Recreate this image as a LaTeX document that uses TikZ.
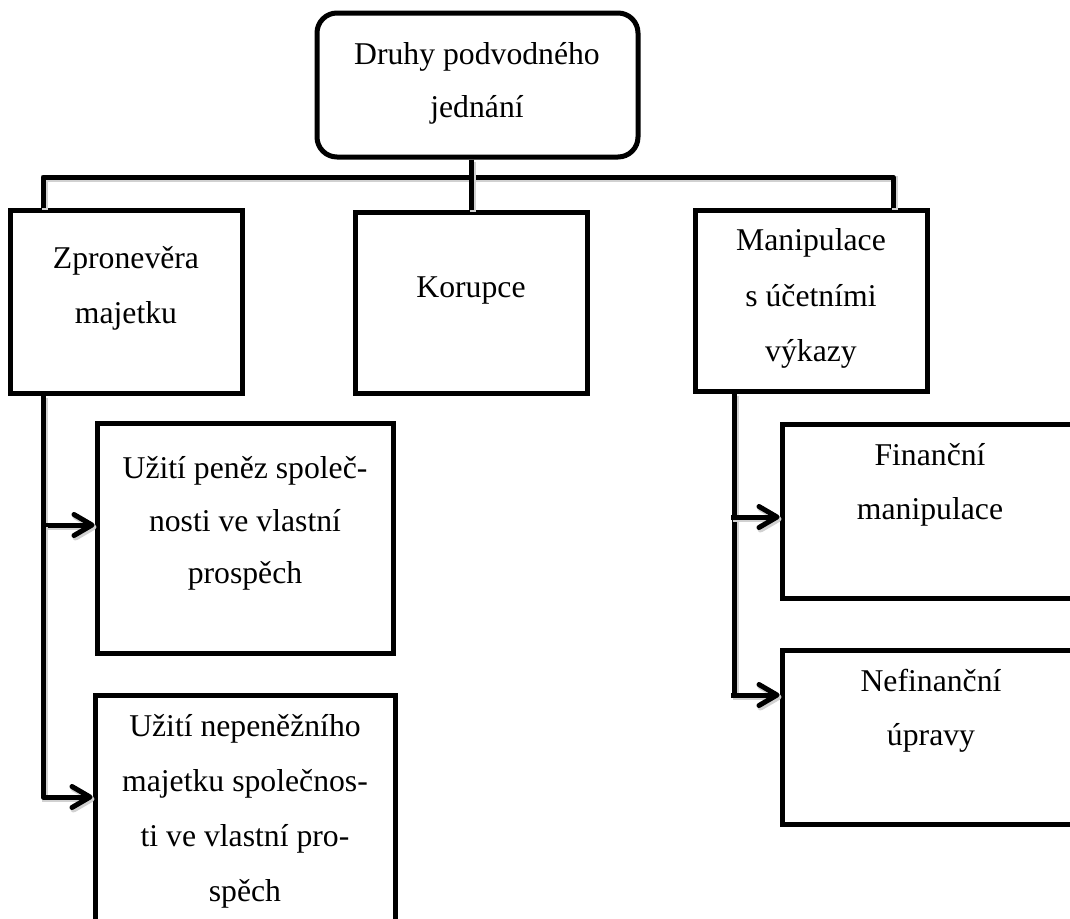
\documentclass[tikz,border=0pt]{standalone}
\usepackage{fontspec}
\setmainfont{Liberation Serif}
\usetikzlibrary{arrows.meta}
\newcommand\fl{\rule{0pt}{30pt}}
\begin{document}
\begin{tikzpicture}[x=1pt,y=-1pt,
  box/.style={draw=black, line width=5pt, inner sep=0pt, rectangle},
  conn/.style={line width=5pt, line join=round,
    preaction={draw=black!18, line width=6pt, transform canvas={shift={(2pt,-2pt)}}}},
  arr/.style={conn, -{Straight Barb[length=18pt,width=21pt,round]}},
  txt/.style={anchor=north, align=center, inner sep=0pt},
  lsk/.style={font=\fontsize{31.7}{#1}\selectfont},
]
\path[use as bounding box, clip] (0,0) rectangle (1070,918);
\fill[white] (0,0) rectangle (1070,918);

% boxes
\node[box, rounded corners=20pt, minimum width=321pt, minimum height=144pt] (top) at (477.5,85) {};
\node[box, minimum width=232pt, minimum height=183pt] (zpr) at (126,301.5) {};
\node[box, minimum width=232pt, minimum height=181pt] (kor) at (471,302.5) {};
\node[box, minimum width=232pt, minimum height=181pt] (man) at (811,300.5) {};
\node[box, minimum width=296pt, minimum height=230pt] (pen) at (245,538) {};
\node[box, minimum width=300pt, minimum height=226pt] (nep) at (245,808) {};
\node[box, minimum width=296pt, minimum height=174pt] (fin) at (930,511) {};
\node[box, minimum width=296pt, minimum height=174pt] (nef) at (930,737) {};

% texts
\node[txt, lsk=53] (ttop) at (477,34.5) {\fl Druhy podvodného\\jednání};
\node[txt, lsk=55] (tzpr) at (126,238) {\fl Zpronevěra\\majetku};
\node[txt, lsk=54] (tkor) at (471,267) {\fl Korupce};
\node[txt, lsk=55.5] (tman) at (811,220.5) {\fl Manipulace\\s účetními\\výkazy};
\node[txt, lsk=52.5] (tpen) at (245,448.3) {\fl Užití peněz společ-\\nosti ve vlastní\\prospěch};
\node[txt, lsk=55] (tnep) at (245,706) {\fl Užití nepeněžního\\majetku společnos-\\ti ve vlastní pro-\\spěch};
\node[txt, lsk=54] (tfin) at (930,435) {\fl Finanční\\manipulace};
\node[txt, lsk=54] (tnef) at (931,661.7) {\fl Nefinanční\\úpravy};

% connector coordinates
\coordinate (hl) at (43,177);
\coordinate (hr) at (893,177);
\coordinate (a1) at (43,525);
\coordinate (a2) at (43,797);
\coordinate (b0) at (734,517);
\coordinate (b1) at (731,517);
\coordinate (b2) at (734,695);
\coordinate (b3) at (731,695);

% connectors
\draw[conn] (zpr.north -| hl) -- (hl) -- (hr) -- (man.north -| hr);
\draw[conn] (top.south -| kor.north) -- (kor.north);
\draw[conn] (zpr.south -| a1) -- (a1);
\draw[arr] (a1) -- (a1 -| pen.west);
\draw[arr] (a1) -- (a2) -- (a2 -| nep.west);
\draw[conn, line cap=rect] (man.south -| b2) -- (b2);
\draw[arr] (b1) -- (b1 -| fin.west);
\draw[arr] (b3) -- (b3 -| nef.west);
\end{tikzpicture}
\end{document}
